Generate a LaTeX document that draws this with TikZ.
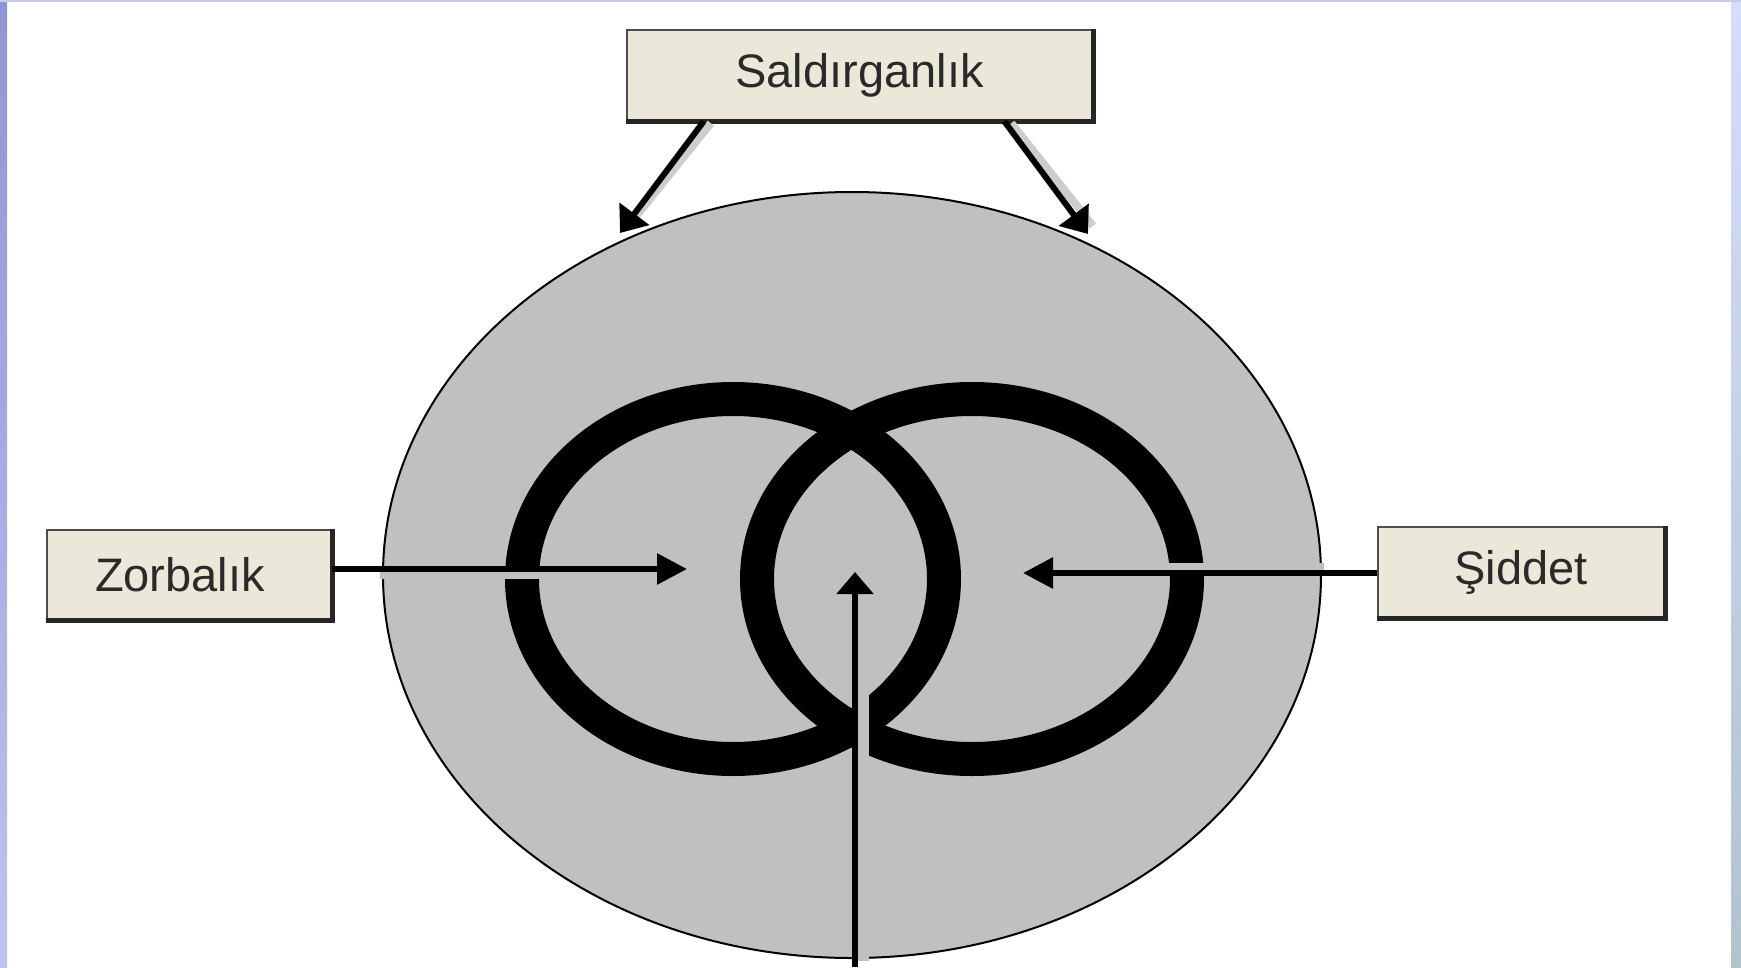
\documentclass[tikz,border=0pt]{standalone}
\usepackage{fontspec}
\setmainfont{Liberation Sans}
\usetikzlibrary{arrows.meta,calc}
\definecolor{ellgray}{HTML}{C0C0C0}
\definecolor{shadegray}{HTML}{CDCDCD}
\definecolor{boxfill}{HTML}{ECE8D9}
\definecolor{txtgray}{HTML}{2A2A2A}
\definecolor{leftop}{RGB}{144,149,213}
\definecolor{leftbot}{RGB}{188,196,238}
\definecolor{rightop}{RGB}{212,221,251}
\definecolor{rightbot}{RGB}{179,195,204}
\definecolor{topstrip}{RGB}{197,203,241}
\begin{document}
\begin{tikzpicture}[x=1pt,y=-1pt,
  labelbox/.style={draw=black!70,line width=2.5pt,fill=boxfill,text=txtgray,
    font=\fontsize{47}{52}\selectfont,inner sep=0pt},
  link/.style={line width=6pt,-{Triangle[length=30pt,width=30pt]}},
  halo/.style={draw=#1,line width=8pt},
  ring/.style={line width=34pt}]
\useasboundingbox (0,0) rectangle (1741,967);
\shade[top color=leftop,bottom color=leftbot] (0,0) rectangle (7,967);
\shade[top color=rightop,bottom color=rightbot] (1731,0) rectangle (1741,967);
\fill[topstrip] (0,0) rectangle (1741,2);
\node[labelbox,minimum width=465pt,minimum height=90pt] (sal) at (859.5,75) {Saldırganlık};
\node[labelbox,minimum width=284pt,minimum height=89pt] (zor) at (189,574.5) {\hspace*{-18pt}Zorbalık};
\node[labelbox,minimum width=286pt,minimum height=90pt] (sid) at (1521,572) {Şiddet};
\foreach \b in {sal,zor,sid}
  \draw[black!85,line width=4.5pt] (\b.south west) -- (\b.south east) -- (\b.north east);
\draw[fill=ellgray,line width=2pt] (852,575) ellipse [x radius=469,y radius=383];
\draw[ring] (733,579) ellipse [x radius=211,y radius=180];
\draw[ring] (972,579) ellipse [x radius=215,y radius=180];
\coordinate (tl) at (620,233);
\coordinate (tr) at (1088,234);
\coordinate (tz) at (687,569);
\coordinate (ts) at (1023,573);
\coordinate (tb) at (855,572);
\coordinate (bb) at (855,967);
\coordinate (zs) at (zor.east |- tz);
\coordinate (ss) at (sid.west |- ts);
\coordinate (sl) at ([xshift=78pt]sal.south west);
\coordinate (sr) at ([xshift=-89pt]sal.south east);
\begin{scope}
\clip (852,575) ellipse [x radius=472,y radius=386];
\draw[halo=ellgray] ($(zs)+(0,6)$) -- ($(tz)+(0,6)$);
\draw[halo=ellgray] ($(ss)+(0,-6)$) -- ($(ts)+(0,-6)$);
\draw[halo=ellgray,line width=11pt] ($(bb)+(8,0)$) -- ($(tb)+(8,0)$);
\end{scope}
\draw[halo=shadegray] ($(sl)+(7,2)$) -- ($(tl)+(9,-8)$);
\draw[halo=shadegray] ($(sr)+(7,2)$) -- ($(tr)+(5,-8)$);
\draw[link,-{Triangle[length=24pt,width=36pt]}] (sl) -- (tl);
\draw[link,-{Triangle[length=24pt,width=36pt]}] (sr) -- (tr);
\draw[link] (zs) -- (tz);
\draw[link] (ss) -- (ts);
\draw[link,-{Triangle[length=22pt,width=36pt]}] (bb) -- (tb);
\end{tikzpicture}
\end{document}
